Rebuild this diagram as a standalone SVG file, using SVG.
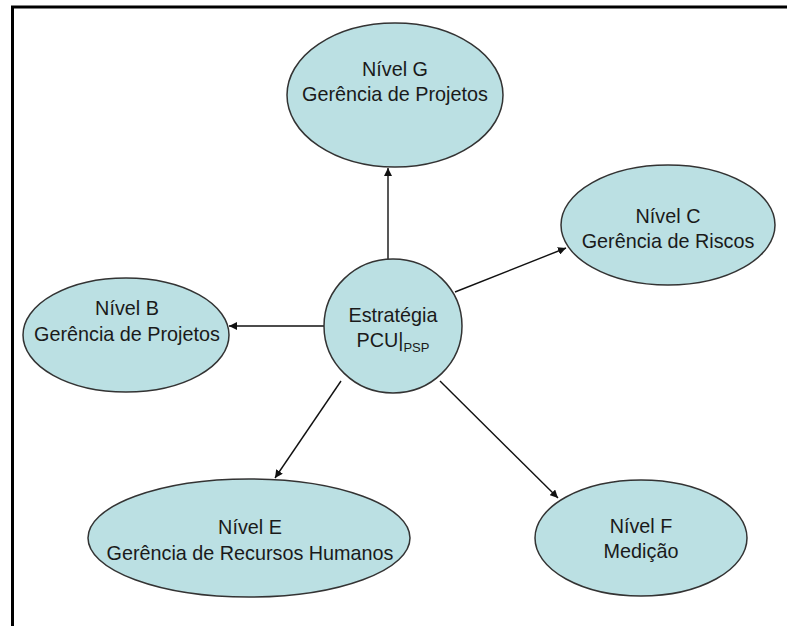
<svg xmlns="http://www.w3.org/2000/svg" width="787" height="626" viewBox="0 0 787 626">
<defs>
<marker id="arr" viewBox="0 0 10 10" refX="10" refY="5" markerWidth="8" markerHeight="8" markerUnits="userSpaceOnUse" orient="auto">
<path d="M0,0 L10,5 L0,10 z" fill="#111"/>
</marker>
</defs>
<style>
.node{fill:#BBE0E3;stroke:#333;stroke-width:1.5}
.lbl{font-family:"Liberation Sans",Arial,sans-serif;font-size:19.8px;fill:#1a1a1a;text-anchor:middle}
.conn{stroke:#111;stroke-width:1.4;fill:none;marker-end:url(#arr)}
</style>
<rect width="787" height="626" fill="#fff"/>
<g id="frame" stroke="#000" stroke-width="3" fill="none">
<line x1="11" y1="7" x2="787" y2="7"/>
<line x1="12.5" y1="6" x2="12.5" y2="626"/>
</g>
<g id="connectors">
<line class="conn" x1="388" y1="259" x2="388" y2="168"/>
<line class="conn" x1="455" y1="292" x2="566" y2="248"/>
<line class="conn" x1="324" y1="326" x2="229" y2="326"/>
<line class="conn" x1="341" y1="381" x2="275" y2="478"/>
<line class="conn" x1="440" y1="381" x2="558" y2="498"/>
</g>
<g id="nodeG">
<ellipse class="node" cx="395" cy="95" rx="108" ry="72"/>
<text class="lbl" x="395" y="76">Nível G</text>
<text class="lbl" x="395" y="101">Gerência de Projetos</text>
</g>
<g id="nodeC">
<ellipse class="node" cx="668" cy="225" rx="107" ry="60"/>
<text class="lbl" x="668" y="223">Nível C</text>
<text class="lbl" x="668" y="248">Gerência de Riscos</text>
</g>
<g id="nodeB">
<ellipse class="node" cx="126" cy="335" rx="103" ry="57"/>
<text class="lbl" x="127" y="315">Nível B</text>
<text class="lbl" x="127" y="341">Gerência de Projetos</text>
</g>
<g id="nodeE">
<ellipse class="node" cx="249" cy="538" rx="161" ry="59"/>
<text class="lbl" x="250" y="534">Nível E</text>
<text class="lbl" x="250" y="560">Gerência de Recursos Humanos</text>
</g>
<g id="nodeF">
<ellipse class="node" cx="641" cy="538" rx="106" ry="58"/>
<text class="lbl" x="641" y="533">Nível F</text>
<text class="lbl" x="641" y="558">Medição</text>
</g>
<g id="center">
<ellipse class="node" cx="393" cy="326" rx="69" ry="67"/>
<text class="lbl" x="393" y="322">Estratégia</text>
<text class="lbl" x="393" y="347">PCU|<tspan font-size="13" dy="5">PSP</tspan></text>
</g>
</svg>
